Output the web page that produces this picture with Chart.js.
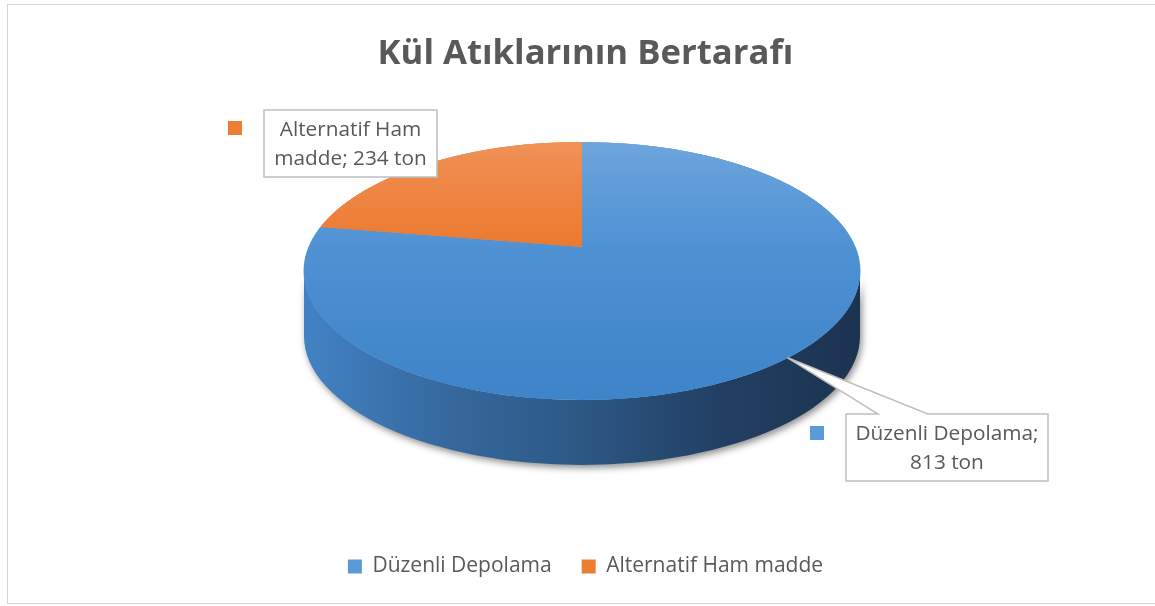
<!DOCTYPE html>
<html>
<head>
<meta charset="utf-8">
<script src="https://cdn.jsdelivr.net/npm/chart.js@4.4.1/dist/chart.umd.min.js"></script>
<style>
html, body { margin: 0; padding: 0; background: #fff; }
#wrap { position: relative; width: 1155px; height: 606px; overflow: hidden; }
#frame { position: absolute; left: 7px; top: 4px; width: 1160px; height: 598px; border: 1px solid #d5d5d5; pointer-events: none; }
canvas { position: absolute; left: 0; top: 0; }
</style>
</head>
<body>
<div id="wrap">
    <canvas id="pieChart" width="1155" height="606"></canvas>
    <div id="frame"></div>
</div>
<script>
// data
const categories = ['Düzenli Depolama', 'Alternatif Ham madde'];
const values = [813, 234];
const unit = 'ton';
const chartTitle = 'Kül Atıklarının Bertarafı';

// colours
const keyColors = ['#5b9bd5', '#ed7d31'];
const textColor = '#595959';
const topStops = [
    [['0', '#6fa5dc'], ['0.5', '#4f92d4'], ['1', '#3e84c8']],
    [['0', '#f09258'], ['0.5', '#ec7a30'], ['1', '#e0651b']]
];
const sideStops = [
    [['0', '#4282c4'], ['0.25', '#36699f'], ['0.5', '#2c5884'], ['0.75', '#223f63'], ['1', '#1c3350']],
    [['0', '#c5601f'], ['1', '#8a4210']]
];

function faceGradient(chart, i) {
    const a = chart.chartArea;
    if (!a) return keyColors[i];
    const cy = (a.top + a.bottom) / 2;
    const r = Math.min(a.right - a.left, a.bottom - a.top) / 2;
    const g = chart.ctx.createLinearGradient(0, cy - r, 0, cy + r);
    topStops[i].forEach(s => g.addColorStop(+s[0], s[1]));
    return g;
}

// tilted view of the flat pie: top edge, centre and front edge of the disc on screen
function tiltModel(o) {
    const C = o.apexY;
    const k = (2 * C - o.topY - o.botY) / (o.botY - o.topY);
    const D = o.botY * (1 + k) - C;
    const B = o.rx * Math.sqrt(1 - k * k);
    return {
        k, B,
        ecx: o.cx, ecy: (o.topY + o.botY) / 2, erx: o.rx, ery: (o.botY - o.topY) / 2,
        y: v => (C + D * v) / (1 + k * v),
        x: (u, v) => o.cx + B * u / (1 + k * v)
    };
}

const pie3d = {
    id: 'pie3d',
    beforeDatasetsDraw(chart, args, opts) {
        const meta = chart.getDatasetMeta(0);
        const first = meta.data[0];
        if (!first) return;
        const ctx = chart.ctx;
        const m = tiltModel(opts);
        const depth = opts.depth;

        // wall
        const param = a => {
            const u = Math.cos(a), v = Math.sin(a);
            return Math.atan2((m.y(v) - m.ecy) / m.ery, (m.x(u, v) - m.ecx) / m.erx);
        };
        ctx.save();
        ctx.shadowColor = 'rgba(0,0,0,0.45)';
        ctx.shadowBlur = 7;
        ctx.shadowOffsetX = 2;
        ctx.shadowOffsetY = 3;
        meta.data.forEach((arc, i) => {
            const t0 = param(arc.startAngle);
            let t1 = param(arc.endAngle);
            if (arc.endAngle - arc.startAngle >= 2 * Math.PI - 1e-6) t1 = t0 + 2 * Math.PI;
            while (t1 <= t0) t1 += 2 * Math.PI;
            [-2 * Math.PI, 0, 2 * Math.PI].forEach(k => {
                const a0 = Math.max(t0, k), a1 = Math.min(t1, k + Math.PI);
                if (a1 <= a0) return;
                const g = ctx.createLinearGradient(m.ecx - m.erx, 0, m.ecx + m.erx, 0);
                sideStops[i].forEach(st => g.addColorStop(+st[0], st[1]));
                ctx.fillStyle = g;
                ctx.beginPath();
                ctx.ellipse(m.ecx, m.ecy, m.erx, m.ery, 0, a0 - k, a1 - k);
                ctx.ellipse(m.ecx, m.ecy + depth, m.erx, m.ery, 0, a1 - k, a0 - k, true);
                ctx.closePath();
                ctx.fill();
            });
        });
        ctx.restore();

        // top face, drawn in thin horizontal strips
        const x0 = first.x, y0 = first.y, r = first.outerRadius;
        const n = opts.bands;
        for (let b = 0; b < n; b++) {
            const v1 = -1 + 2 * b / n, v2 = -1 + 2 * (b + 1) / n, vm = (v1 + v2) / 2;
            const Y1 = m.y(v1), Y2 = m.y(v2);
            const sy = (Y2 - Y1) / ((v2 - v1) * r);
            const sx = m.B / (1 + m.k * vm) / r;
            const pad = 1 / sy;
            ctx.save();
            ctx.translate(m.ecx - sx * x0, Y1 - sy * (y0 + v1 * r));
            ctx.scale(sx, sy);
            ctx.beginPath();
            ctx.rect(x0 - r - 4, y0 + v1 * r - pad, 2 * r + 8, (v2 - v1) * r + 2 * pad);
            ctx.clip();
            meta.controller.draw();
            ctx.restore();
        }
        return false;
    }
};

// value labels in boxes, like Excel's callouts
const callouts = {
    id: 'callouts',
    afterDraw(chart, args, opts) {
        const ctx = chart.ctx;
        const meta = chart.getDatasetMeta(0);
        const m = tiltModel(chart.options.plugins.pie3d);
        opts.items.forEach(c => {
            const i = c.index;
            const [bx, by, bw, bh] = c.box;
            ctx.save();
            ctx.font = opts.font;
            const words = (categories[i] + '; ' + values[i] + ' ' + unit).split(' ');
            const lines = [];
            let cur = '';
            words.forEach(w => {
                const t = cur ? cur + ' ' + w : w;
                if (cur && ctx.measureText(t).width > c.wrap) { lines.push(cur); cur = w; }
                else cur = t;
            });
            if (cur) lines.push(cur);

            ctx.beginPath();
            ctx.moveTo(bx, by);
            if (c.wedge) {
                const arc = meta.data[i];
                const mid = (arc.startAngle + arc.endAngle) / 2;
                const u = Math.cos(mid), v = Math.sin(mid);
                ctx.lineTo(c.wedge[0], by);
                ctx.lineTo(m.x(u, v), m.y(v));
                ctx.lineTo(c.wedge[1], by);
            }
            ctx.lineTo(bx + bw, by);
            ctx.lineTo(bx + bw, by + bh);
            ctx.lineTo(bx, by + bh);
            ctx.closePath();
            ctx.fillStyle = '#ffffff';
            ctx.fill();
            ctx.strokeStyle = '#bfbfbf';
            ctx.lineWidth = 1.5;
            ctx.stroke();

            ctx.fillStyle = textColor;
            ctx.textAlign = 'center';
            ctx.textBaseline = 'middle';
            const lh = opts.lineHeight;
            const y0 = by + bh / 2 + 1 - (lines.length - 1) * lh / 2;
            lines.forEach((l, j) => ctx.fillText(l, bx + bw / 2, y0 + j * lh));

            ctx.fillStyle = keyColors[i];
            ctx.fillRect(c.key[0], c.key[1], 14, 14);
            ctx.restore();
        });
    }
};

new Chart(document.getElementById('pieChart'), {
    type: 'pie',
    data: {
        labels: categories,
        datasets: [{
            data: values,
            backgroundColor: ctx => faceGradient(ctx.chart, ctx.dataIndex),
            borderWidth: 0,
            clip: false
        }]
    },
    options: {
        responsive: false,
        animation: false,
        events: [],
        layout: { padding: { left: 16, right: 0, top: 0, bottom: 19 } },
        plugins: {
            title: {
                display: true,
                text: chartTitle,
                color: textColor,
                font: { family: 'Open Sans', size: 34.7, weight: 'bold' },
                padding: { top: 33, bottom: 20 }
            },
            legend: {
                position: 'bottom',
                labels: {
                    boxWidth: 14,
                    boxHeight: 14,
                    padding: 30,
                    color: textColor,
                    font: { family: 'Open Sans', size: 21 },
                    generateLabels: () => categories.map((c, i) => ({
                        text: c, fillStyle: keyColors[i], strokeStyle: keyColors[i],
                        fontColor: textColor, lineWidth: 0, hidden: false, index: i
                    }))
                }
            },
            tooltip: { enabled: false },
            pie3d: { cx: 582, topY: 142, apexY: 247, botY: 400, rx: 278, depth: 65, bands: 200 },
            callouts: {
                font: '20.8px "Open Sans"',
                lineHeight: 29,
                items: [
                    { index: 1, box: [264, 110, 173, 67], key: [228, 121], wrap: 160 },
                    { index: 0, box: [846, 414, 202, 67], key: [810, 426], wrap: 190, wedge: [878, 928] }
                ]
            }
        }
    },
    plugins: [pie3d, callouts]
});
</script>
</body>
</html>
